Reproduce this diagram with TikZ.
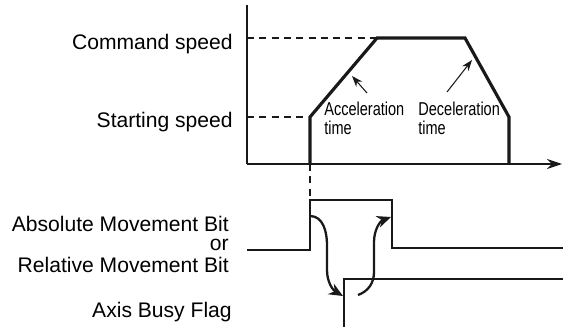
\documentclass[tikz,border=0pt]{standalone}
\usepackage{fontspec}
\setmainfont{Liberation Sans}
\newfontfamily\condfont[FakeStretch=0.78]{Liberation Sans}
\usepackage{tikz}
\usetikzlibrary{arrows.meta,positioning,calc}
\definecolor{ink}{RGB}{25,25,25}
\tikzset{
  axis/.style={draw=ink,line width=0.75pt},
  guide/.style={draw=ink,line width=0.7pt,dash pattern=on 4pt off 3pt},
  prof/.style={draw=ink,line width=1.8pt,line join=miter},
  sig/.style={draw=ink,line width=0.7pt},
  lab/.style={font=\fontsize{12}{14}\selectfont,inner sep=0pt,anchor=base east},
  note/.style={font=\condfont\fontsize{10.6}{11.3}\selectfont,inner sep=0pt,align=left,anchor=base west},
  ptr/.style={-{Stealth[length=2.2mm,width=1.6mm]},line width=0.6pt,ink},
  flow/.style={-{Stealth[length=2.8mm,width=2.4mm]},line width=1.3pt,ink},
}
\begin{document}
\begin{tikzpicture}[x=0.02cm,y=-0.02cm]
\useasboundingbox (0,0) rectangle (563,327);
% speed profile
\coordinate (o) at (247,164);
\coordinate (ytop) at (247,5);
\coordinate (xend) at (562,164);
\draw[axis] (ytop) -- (o);
\draw[axis,-{Stealth[length=3mm,width=2mm]}] (o) -- (xend);
\coordinate (p0) at (310,164);
\coordinate (p1) at (310,117);
\coordinate (p2) at (377,38);
\coordinate (p3) at (465,38);
\coordinate (p4) at (509,117);
\coordinate (p5) at (509,164);
\draw[guide] (247,38) -- (p2);
\draw[guide] (247,117) -- (p1);
\draw[prof] (p0) -- (p1) -- (p2) -- (p3) -- (p4) -- (p5);
\coordinate (t0) at (310,200);
\draw[guide] (p0) -- (t0);

\node[lab] (cmd) at (233,50) {Command speed};
\node[lab] (start) at (233,128) {Starting speed};
% base anchor sits on the last line here
\node[note] (acc) at (324,135) {Acceleration\\time};
\node[note] (dec) at (418,135) {Deceleration\\time};
\coordinate (acctip) at (352,76);
\coordinate (dectip) at (472,60);
\draw[ptr] (367,93) -- (acctip);
\draw[ptr] (447,92) -- (dectip);

% signals
\node[lab] (absbit) at (229,231) {Absolute Movement Bit};
\node[lab] (orlab) at (229,250) {or};
\node[lab] (relbit) at (229,272) {Relative Movement Bit};
\node[lab] (busy) at (232,317) {Axis Busy Flag};

\draw[sig] (247,250) -- (310,250) -- (t0) -- (392,200) -- (392,248) -- (563,248);
\draw[sig] (344,327) -- (344,279) -- (563,279);

\coordinate (a1) at (310,216);
\coordinate (a2) at (343,296);
\coordinate (b1) at (358,295);
\coordinate (b2) at (391,217);
\draw[flow] (a1) to[out=0,in=90] (327,245) -- (327,270) to[out=-90,in=150] (a2);
\draw[flow] (b1) to[out=20,in=-90] (374,272) -- (374,242) to[out=90,in=200] (b2);
\end{tikzpicture}
\end{document}
